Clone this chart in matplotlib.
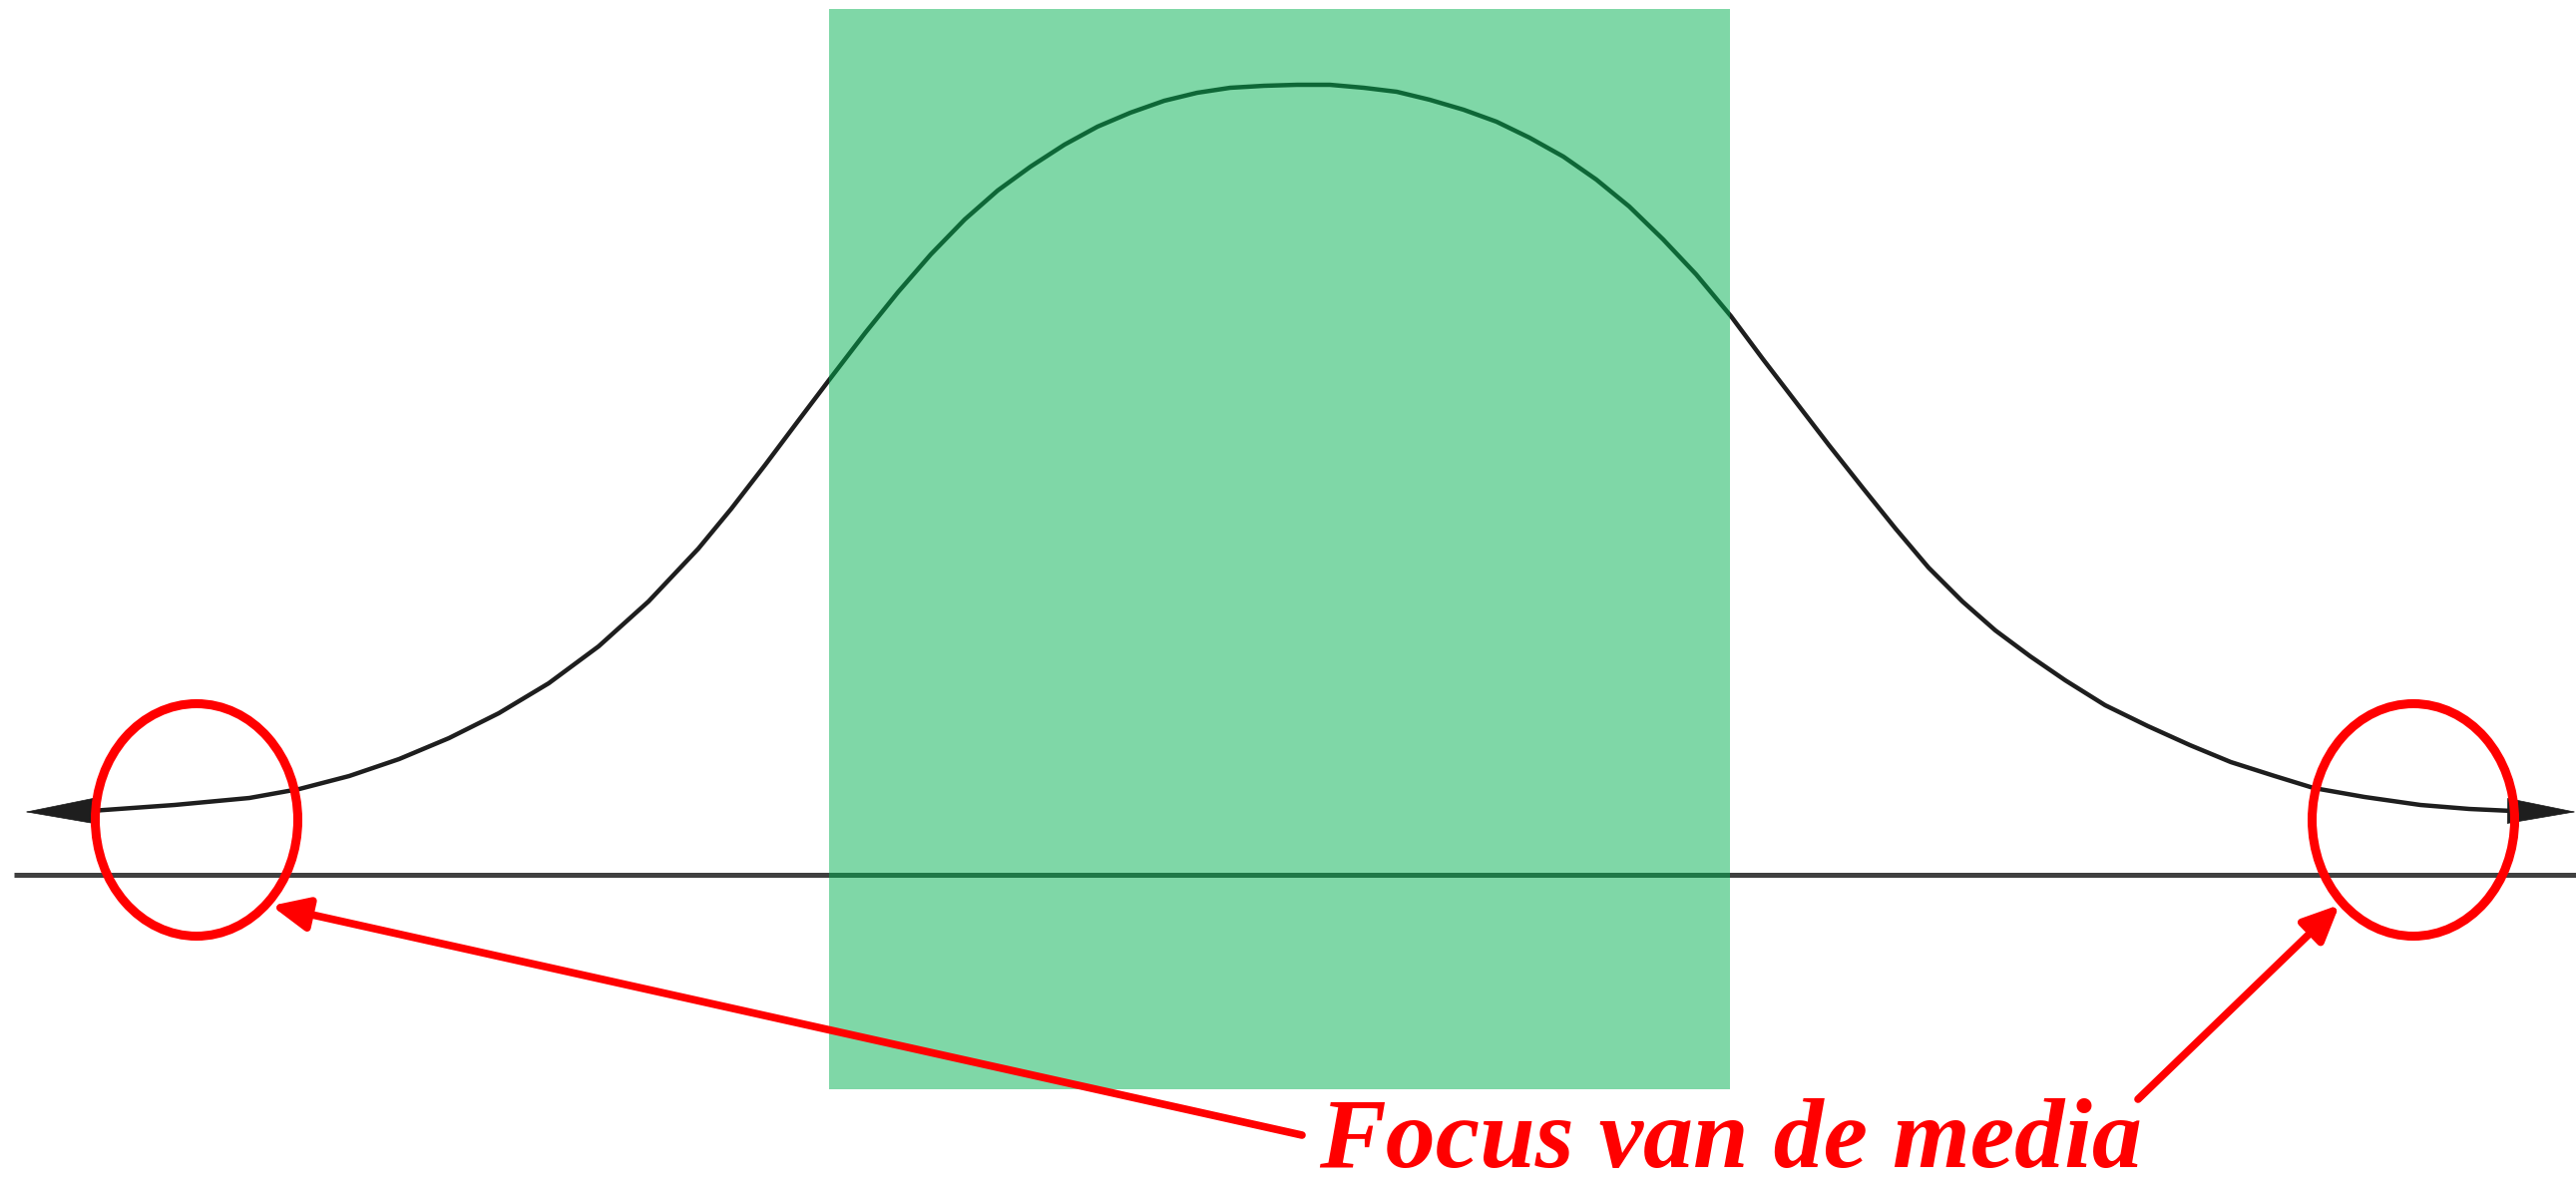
import matplotlib
matplotlib.use("Agg")
import matplotlib.pyplot as plt
from matplotlib.patches import Ellipse, Rectangle

# bell curve (x along the axis, height above the axis line)
curve_x = [25, 91, 175, 250, 300, 350, 400, 450, 500, 550, 600, 650, 700,
           733, 767, 800, 831, 867, 900, 933, 967, 1000, 1033, 1067, 1100,
           1133, 1167, 1200, 1233, 1267, 1300, 1333, 1367, 1400, 1433, 1467,
           1500, 1533, 1567, 1600, 1633, 1667, 1700, 1735, 1767, 1800, 1833,
           1867, 1900, 1933, 1967, 2000, 2035, 2070, 2110, 2153, 2195, 2236,
           2280, 2319, 2370, 2426, 2475, 2518, 2582]
curve_h = [63, 64, 70, 77, 86, 99, 116, 137, 162, 192, 229, 274, 327,
           367, 411, 455, 496, 543, 584, 622, 657, 686, 710, 732, 750,
           764, 776, 784, 789, 791, 792, 792, 789, 785, 777, 767,
           755, 739, 720, 697, 670, 637, 602, 560, 517, 474, 431,
           388, 347, 308, 274, 245, 219, 195, 170, 149, 130, 113,
           99, 87, 78, 70, 66, 64, 63]

# highlighted middle band
band = (831, 1734)
band_h = (-215, 868)

# the two tails that get circled
tail_centres = [197, 2419]
tail_h = 55

label = "Focus van de media"

fig = plt.figure(figsize=(25.82, 11.87), dpi=100)
ax = fig.add_axes([0, 0, 1, 1])
ax.set_xlim(0, 2582)
ax.set_ylim(-310, 877)
ax.axis("off")

# axis line
ax.plot([14, 2582], [0, 0], color="#404040", lw=3.6, solid_capstyle="butt", zorder=2)

# curve, arrowheads at both ends
ax.plot(curve_x[1:-1], curve_h[1:-1], color="#1e1e1e", lw=3.2,
        solid_joinstyle="round", solid_capstyle="butt", zorder=3)
for i_tip, i_base in ((0, 1), (-1, -2)):
    ax.annotate("", xy=(curve_x[i_tip], curve_h[i_tip]),
                xytext=(curve_x[i_base], curve_h[i_base]),
                arrowprops=dict(arrowstyle="-|>,head_length=2.4,head_width=0.45",
                                mutation_scale=20, color="#1e1e1e", lw=0.5,
                                shrinkA=0, shrinkB=0),
                zorder=3)

# green band on top (translucent, darkens curve and axis inside it)
ax.add_patch(Rectangle((band[0], band_h[0]), band[1] - band[0], band_h[1] - band_h[0],
                       facecolor="#00B050", alpha=0.5, edgecolor="none", zorder=4))

# red circles round the tails
for cx in tail_centres:
    ax.add_patch(Ellipse((cx, tail_h), 203, 233, fill=False, edgecolor="#FF0000",
                         lw=6.5, zorder=5))

# red arrows from the label to the circles
red_arrows = [((1305, -261), (272, -31)), ((2143, -225), (2345, -30))]
for start, end in red_arrows:
    ax.annotate("", xy=end, xytext=start,
                arrowprops=dict(arrowstyle="-|>,head_length=1.1,head_width=0.5",
                                mutation_scale=20, color="#FF0000", lw=5.5,
                                shrinkA=0, shrinkB=0),
                zorder=5)

ax.text(1322, -293, label, color="#FF0000", fontsize=72, fontstyle="italic",
        fontweight="bold", family="Liberation Serif", ha="left", va="baseline",
        zorder=6)

fig.savefig("out.png", dpi=100, facecolor="white")
